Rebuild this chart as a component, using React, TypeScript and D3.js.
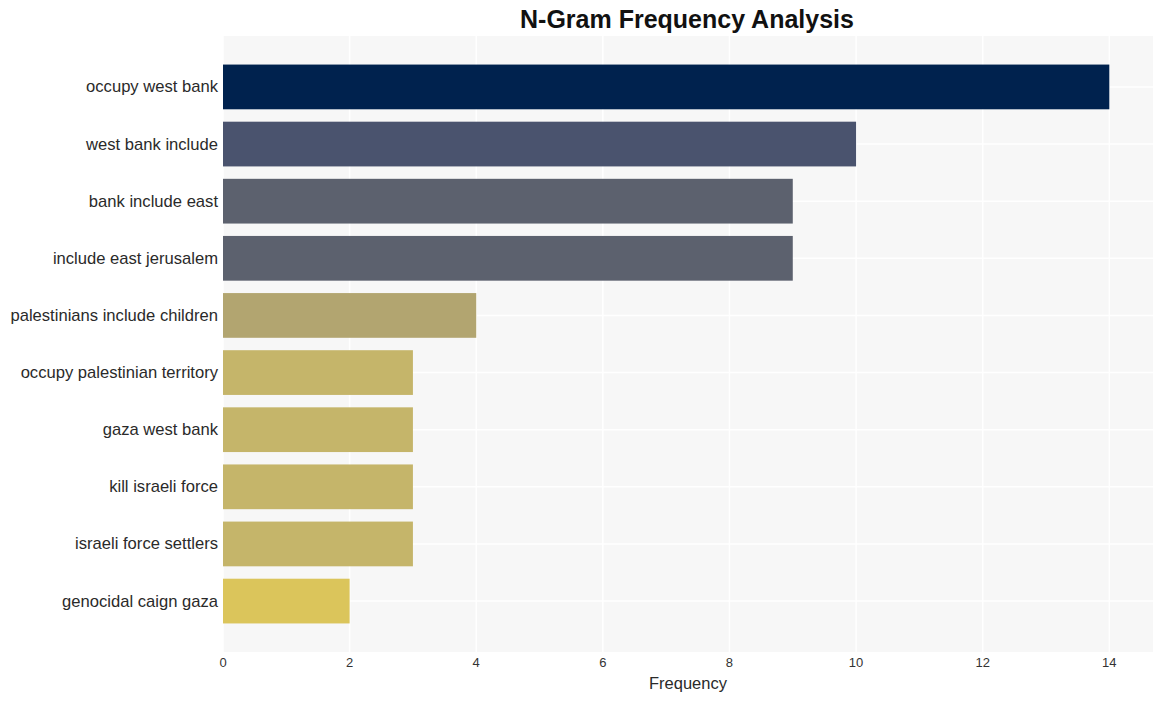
import React from "react";
import * as d3 from "d3";

const categories = [
  "occupy west bank",
  "west bank include",
  "bank include east",
  "include east jerusalem",
  "palestinians include children",
  "occupy palestinian territory",
  "gaza west bank",
  "kill israeli force",
  "israeli force settlers",
  "genocidal caign gaza",
];
const values = [14, 10, 9, 9, 4, 3, 3, 3, 3, 2];
const colors = [
  "#00224e",
  "#4a536e",
  "#5c616e",
  "#5c616e",
  "#b2a570",
  "#c5b56a",
  "#c5b56a",
  "#c5b56a",
  "#c5b56a",
  "#dbc55b",
];
const xTicks = [0, 2, 4, 6, 8, 10, 12, 14];

const W = 1162;
const H = 701;
const M = { left: 223, right: 1153, top: 36, bottom: 652 };

export default function App() {
  const x = d3.scaleLinear().domain([0, 14.69]).range([M.left, M.right]);
  const y = d3
    .scaleBand<string>()
    .domain(categories)
    .range([M.top, M.bottom])
    .paddingInner(0.217)
    .paddingOuter(0.5);
  const font = "'Liberation Sans', Arial, sans-serif";
  return (
    <svg
      width={W}
      height={H}
      style={{ position: "absolute", left: 0, top: 0 }}
      fontFamily={font}
    >
      <rect x={0} y={0} width={W} height={H} fill="#ffffff" />
      <rect
        x={M.left}
        y={M.top}
        width={M.right - M.left}
        height={M.bottom - M.top}
        fill="#f7f7f7"
      />
      {xTicks.map((t) => (
        <line
          key={"gx" + t}
          x1={x(t)}
          x2={x(t)}
          y1={M.top}
          y2={M.bottom}
          stroke="#ffffff"
          strokeWidth={1.5}
        />
      ))}
      {categories.map((c) => (
        <line
          key={"gy" + c}
          x1={M.left}
          x2={M.right}
          y1={(y(c) as number) + y.bandwidth() / 2}
          y2={(y(c) as number) + y.bandwidth() / 2}
          stroke="#ffffff"
          strokeWidth={1.5}
        />
      ))}
      {categories.map((c, i) => (
        <rect
          key={"b" + c}
          x={x(0)}
          y={y(c) as number}
          width={x(values[i]) - x(0)}
          height={y.bandwidth()}
          fill={colors[i]}
        />
      ))}
      {categories.map((c) => (
        <text
          key={"l" + c}
          x={M.left - 5}
          y={(y(c) as number) + y.bandwidth() / 2}
          textAnchor="end"
          dominantBaseline="central"
          fontSize={16.6}
          fill="#2a2a2a"
        >
          {c}
        </text>
      ))}
      {xTicks.map((t) => (
        <text
          key={"t" + t}
          x={x(t)}
          y={667}
          textAnchor="middle"
          fontSize={13}
          fill="#333333"
        >
          {t}
        </text>
      ))}
      <text x={688} y={689} textAnchor="middle" fontSize={16.5} fill="#2a2a2a">
        Frequency
      </text>
      <text
        x={687}
        y={28}
        textAnchor="middle"
        fontSize={25}
        fontWeight="bold"
        fill="#111111"
      >
        N-Gram Frequency Analysis
      </text>
    </svg>
  );
}
